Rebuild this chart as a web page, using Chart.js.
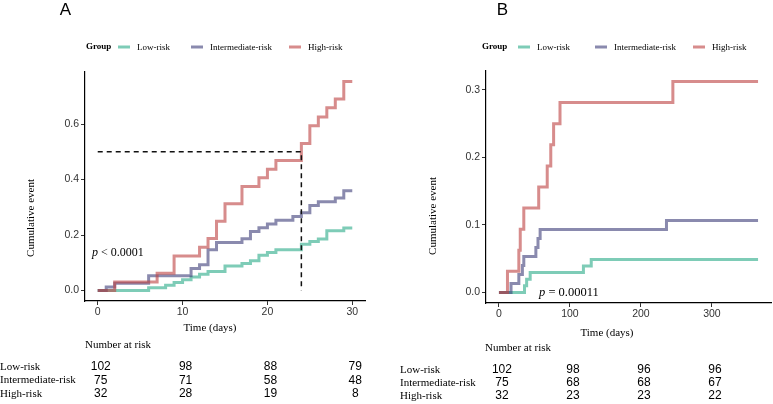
<!DOCTYPE html>
<html>
<head>
<meta charset="utf-8">
<script src="https://cdn.jsdelivr.net/npm/chart.js@4.4.1/dist/chart.umd.min.js"></script>
<style>
  html, body { margin: 0; padding: 0; background: #fff; }
  #wrap { position: relative; width: 773px; height: 404px; overflow: hidden; }
  canvas { position: absolute; top: 0; }
  #panelA { left: 0; }
  #panelB { left: 395px; }
</style>
</head>
<body>
<div id="wrap">
  <canvas id="panelA" width="395" height="404"></canvas>
  <canvas id="panelB" width="378" height="404"></canvas>
</div>
<script>
// groups
const groups = ['Low-risk', 'Intermediate-risk', 'High-risk'];

// Panel A: cumulative event, time in days (0-30)
const timeLowA  = [0, 6, 8, 9, 10, 11, 12, 13, 15, 17, 18, 19, 20, 21, 24, 25, 26, 27, 29, 30];
const cumLowA   = [0, 0.0098, 0.0196, 0.0294, 0.0392, 0.049, 0.0588, 0.0686, 0.0882, 0.098, 0.1078, 0.1275, 0.1373, 0.1471, 0.1667, 0.1765, 0.1863, 0.2157, 0.2255, 0.2255];
const timeMidA  = [0, 1, 2, 6, 11, 12, 13, 14, 17, 18, 19, 20, 21, 23, 24, 25, 26, 28, 29, 30];
const cumMidA   = [0, 0.0133, 0.0267, 0.0533, 0.08, 0.0933, 0.1467, 0.1733, 0.1867, 0.2133, 0.2267, 0.24, 0.2533, 0.2667, 0.28, 0.3067, 0.32, 0.3333, 0.36, 0.36];
const timeHighA = [0, 2, 7, 9, 12, 13, 14, 15, 17, 19, 20, 21, 24, 25, 26, 27, 28, 29, 30];
const cumHighA  = [0, 0.0313, 0.0625, 0.125, 0.1563, 0.1875, 0.25, 0.3125, 0.375, 0.4063, 0.4375, 0.4688, 0.53, 0.594, 0.625, 0.659, 0.69, 0.753, 0.753];
const medianTimeA = 24;
const medianLevelA = 0.5;
const xTicksA = [0, 10, 20, 30];
const yTicksA = [0, 0.2, 0.4, 0.6];
const riskTimesA = [0, 10, 20, 30];
const riskLowA  = [102, 98, 88, 79];
const riskMidA  = [75, 71, 58, 48];
const riskHighA = [32, 28, 19, 8];

// Panel B: time in days (0-365)
const timeLowB  = [0, 36, 39, 44, 119, 130, 365];
const cumLowB   = [0, 0.0098, 0.0196, 0.0294, 0.0392, 0.049, 0.049];
const timeMidB  = [0, 17, 28, 33, 35, 52, 55, 58, 236, 365];
const cumMidB   = [0, 0.0133, 0.0267, 0.04, 0.0533, 0.0667, 0.08, 0.0933, 0.1067, 0.1067];
const timeHighB = [0, 12, 28, 30, 35, 56, 68, 73, 77, 86, 245, 365];
const cumHighB  = [0, 0.0313, 0.0625, 0.0938, 0.125, 0.1563, 0.1875, 0.2188, 0.25, 0.2813, 0.3125, 0.3125];
const xTicksB = [0, 100, 200, 300];
const yTicksB = [0, 0.1, 0.2, 0.3];
const riskTimesB = [0, 100, 200, 300];
const riskLowB  = [102, 98, 96, 96];
const riskMidB  = [75, 68, 68, 67];
const riskHighB = [32, 23, 23, 22];

const colors = ['rgba(40,170,135,0.6)', 'rgba(60,60,120,0.6)', 'rgba(190,70,70,0.62)'];
const serif = '"Liberation Serif", "Times New Roman", serif';
const sans = '"Liberation Sans", Arial, sans-serif';

function pts(xs, ys) {
    return xs.map((x, i) => ({ x: x, y: ys[i] }));
}

/* text around the plot: letter, legend, titles, p value, risk table */
const panelDecor = {
    id: 'panelDecor',
    afterDraw(chart, args, o) {
        const ctx = chart.ctx;
        const xs = chart.scales.x;
        ctx.save();
        ctx.fillStyle = '#000';

        ctx.font = '17px ' + sans;
        ctx.textAlign = 'center';
        ctx.textBaseline = 'alphabetic';
        ctx.fillText(o.letter, o.letterX, 15);

        // legend
        ctx.textAlign = 'left';
        ctx.textBaseline = 'middle';
        ctx.font = 'bold 9px ' + serif;
        ctx.fillText('Group', o.legendX, o.legendY);
        ctx.font = '9px ' + serif;
        groups.forEach((g, i) => {
            ctx.strokeStyle = colors[i];
            ctx.lineWidth = 3;
            ctx.beginPath();
            ctx.moveTo(o.swatchX[i], o.legendY);
            ctx.lineTo(o.swatchX[i] + 12, o.legendY);
            ctx.stroke();
            ctx.fillText(g, o.swatchX[i] + 19, o.legendY + 0.5);
        });

        // axis titles
        ctx.font = '11px ' + serif;
        ctx.textAlign = 'center';
        ctx.fillText('Time (days)', o.xTitle[0], o.xTitle[1]);
        ctx.save();
        ctx.translate(o.yTitle[0], o.yTitle[1]);
        ctx.rotate(-Math.PI / 2);
        ctx.fillText('Cumulative event', 0, 0);
        ctx.restore();

        // p value
        ctx.textAlign = 'left';
        ctx.font = 'italic ' + o.pSize + 'px ' + serif;
        ctx.fillText('p', o.pPos[0], o.pPos[1]);
        const w = ctx.measureText('p').width;
        ctx.font = o.pSize + 'px ' + serif;
        ctx.fillText(o.pText, o.pPos[0] + w, o.pPos[1]);

        // number at risk
        ctx.font = '11px ' + serif;
        ctx.fillText('Number at risk', o.tableTitle[0], o.tableTitle[1]);
        o.rows.forEach((counts, r) => {
            ctx.font = '11px ' + serif;
            ctx.textAlign = 'left';
            ctx.fillText(groups[r], o.rowLabelX, o.rowY[r]);
            ctx.font = '12px ' + sans;
            ctx.textAlign = 'center';
            counts.forEach((n, i) => {
                ctx.fillText(String(n), xs.getPixelForValue(o.riskTimes[i]) + 3, o.rowY[r]);
            });
        });
        ctx.restore();
    }
};

function makePanel(id, series, dashed, xr, yr, xTicks, yTicks, yDigits, box, deco) {
    const datasets = series.map((s, i) => ({
        label: groups[i],
        data: s,
        borderColor: colors[i],
        borderWidth: 3,
        pointRadius: 0,
        stepped: 'before',
        fill: false,
        order: 3 - i
    }));
    if (dashed) {
        datasets.push({
            label: 'median',
            data: dashed,
            borderColor: '#111',
            borderWidth: 1.5,
            borderDash: [5, 4],
            pointRadius: 0,
            fill: false,
            order: 0
        });
    }
    new Chart(document.getElementById(id), {
        type: 'line',
        data: { datasets: datasets },
        options: {
            responsive: false,
            animation: false,
            devicePixelRatio: 1,
            layout: { padding: { left: 0, top: box.top, right: box.right, bottom: 0 } },
            plugins: { legend: { display: false }, tooltip: { enabled: false }, panelDecor: deco },
            scales: {
                x: {
                    type: 'linear', min: xr[0], max: xr[1],
                    afterBuildTicks: (s) => { s.ticks = xTicks.map(v => ({ value: v })); },
                    afterFit: (s) => { s.height = box.xH; },
                    grid: { drawOnChartArea: false, drawTicks: true, tickLength: 4, color: '#333' },
                    border: { display: true, color: '#000', width: 1.2 },
                    ticks: { color: '#333', padding: 1, font: { family: sans, size: 10.5 }, callback: v => String(v) }
                },
                y: {
                    type: 'linear', min: yr[0], max: yr[1],
                    afterBuildTicks: (s) => { s.ticks = yTicks.map(v => ({ value: v })); },
                    afterFit: (s) => { s.width = box.yW; },
                    grid: { drawOnChartArea: false, drawTicks: true, tickLength: 4, color: '#333' },
                    border: { display: true, color: '#000', width: 1.2 },
                    ticks: { color: '#333', padding: 2, font: { family: sans, size: 10.5 }, callback: v => Number(v).toFixed(yDigits) }
                }
            }
        },
        plugins: [panelDecor]
    });
}

makePanel('panelA',
    [pts(timeLowA, cumLowA), pts(timeMidA, cumMidA), pts(timeHighA, cumHighA)],
    [{ x: 0, y: medianLevelA }, { x: medianTimeA, y: medianLevelA }, { x: medianTimeA, y: 0 }],
    [-1.5, 31.5], [-0.0375, 0.7875], xTicksA, yTicksA, 1,
    { top: 72, right: 30, xH: 103, yW: 85 },
    {
        letter: 'A', letterX: 65.5,
        legendX: 86, legendY: 47, swatchX: [118, 191, 289],
        xTitle: [210, 328], yTitle: [31, 218],
        pText: ' < 0.0001', pSize: 12, pPos: [92, 253],
        tableTitle: [85, 345], rowLabelX: 0, rowY: [367, 380.5, 394],
        riskTimes: riskTimesA, rows: [riskLowA, riskMidA, riskHighA]
    });

makePanel('panelB',
    [pts(timeLowB, cumLowB), pts(timeMidB, cumMidB), pts(timeHighB, cumHighB)],
    null,
    [-18.25, 383.25], [-0.015625, 0.328125], xTicksB, yTicksB, 1,
    { top: 71, right: 2, xH: 101, yW: 91 },
    {
        letter: 'B', letterX: 107.5,
        legendX: 87, legendY: 47, swatchX: [123, 200, 298],
        xTitle: [212, 333], yTitle: [38.5, 216],
        pText: ' = 0.00011', pSize: 12.5, pPos: [144, 293],
        tableTitle: [90, 348], rowLabelX: 5, rowY: [370, 383, 396],
        riskTimes: riskTimesB, rows: [riskLowB, riskMidB, riskHighB]
    });
</script>
</body>
</html>
